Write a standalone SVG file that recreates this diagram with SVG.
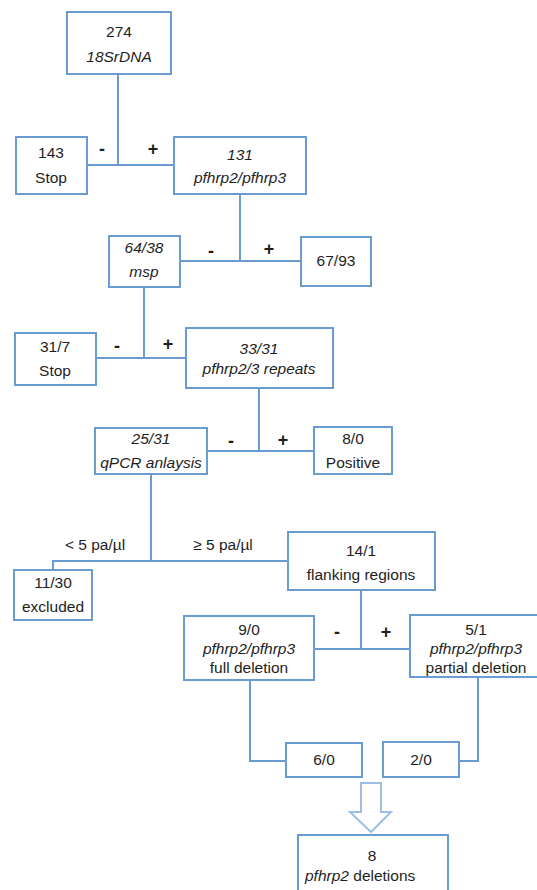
<svg xmlns="http://www.w3.org/2000/svg" width="537" height="890" viewBox="0 0 537 890">
<style>
.b{fill:#fff;stroke:#6a9bd3;stroke-width:2}
.c{fill:none;stroke:#6a9bd3;stroke-width:2}
text{font-family:"Liberation Sans",Arial,sans-serif;font-size:15.5px;fill:#1e1e1e;text-anchor:middle}
.i{font-style:italic}
.s{font-weight:bold;font-size:18px}
</style>
<rect width="537" height="890" fill="#fff"/>
<g id="connectors">
<path class="c" d="M118 74V165M87 165H174"/>
<path class="c" d="M240 194V261M180 261H301"/>
<path class="c" d="M144 287V358M96 358H186"/>
<path class="c" d="M259 388V451M207 451H314"/>
<path class="c" d="M151 474V561M53 570V561H288"/>
<path class="c" d="M361 590V649M314 649H410"/>
<path class="c" d="M250 680V761H286"/>
<path class="c" d="M478 677V761H459"/>
<path fill="#fff" stroke="#9dbfe6" stroke-width="2" d="M361 783H381V812H391L371 832L350 812H361Z"/>
<text class="s" x="102" y="155">-</text>
<text class="s" x="153" y="155">+</text>
<text class="s" x="211" y="257">-</text>
<text class="s" x="269" y="255">+</text>
<text class="s" x="117" y="352">-</text>
<text class="s" x="168" y="350">+</text>
<text class="s" x="231" y="447">-</text>
<text class="s" x="283" y="446">+</text>
<text class="s" x="337" y="638">-</text>
<text class="s" x="386" y="638">+</text>
<text x="95" y="550">&lt; 5 pa/µl</text>
<text x="223" y="550">≥ 5 pa/µl</text>
</g>
<g id="n274"><rect class="b" x="67" y="12" width="104" height="62"/><text x="119" y="37">274</text><text class="i" x="119" y="62">18SrDNA</text></g>
<g id="n143"><rect class="b" x="16" y="137" width="71" height="57"/><text x="51" y="158">143</text><text x="51" y="183">Stop</text></g>
<g id="n131"><rect class="b" x="174" y="137" width="132" height="57"/><text class="i" x="240" y="160">131</text><text class="i" x="240" y="183">pfhrp2/pfhrp3</text></g>
<g id="n6438"><rect class="b" x="109" y="236" width="71" height="51"/><text class="i" x="144" y="253">64/38</text><text class="i" x="144" y="277">msp</text></g>
<g id="n6793"><rect class="b" x="301" y="237" width="70" height="49"/><text x="336" y="266">67/93</text></g>
<g id="n317"><rect class="b" x="15" y="333" width="81" height="52"/><text x="55" y="352">31/7</text><text x="55" y="376">Stop</text></g>
<g id="n3331"><rect class="b" x="186" y="328" width="147" height="60"/><text class="i" x="259" y="354">33/31</text><text class="i" x="259" y="374">pfhrp2/3 repeats</text></g>
<g id="n2531"><rect class="b" x="95" y="428" width="112" height="46"/><text class="i" x="151" y="444">25/31</text><text class="i" x="151" y="468">qPCR anlaysis</text></g>
<g id="n80"><rect class="b" x="314" y="427" width="78" height="47"/><text x="353" y="444">8/0</text><text x="353" y="468">Positive</text></g>
<g id="n141"><rect class="b" x="288" y="532" width="147" height="58"/><text x="361" y="556">14/1</text><text x="361" y="580">flanking regions</text></g>
<g id="n1130"><rect class="b" x="14" y="570" width="78" height="50"/><text x="53" y="588">11/30</text><text x="53" y="612">excluded</text></g>
<g id="n90"><rect class="b" x="184" y="616" width="130" height="64"/><text x="249" y="635">9/0</text><text class="i" x="249" y="654">pfhrp2/pfhrp3</text><text x="249" y="673">full deletion</text></g>
<g id="n51"><rect class="b" x="410" y="615" width="132" height="62"/><text x="476" y="635">5/1</text><text class="i" x="476" y="654">pfhrp2/pfhrp3</text><text x="476" y="673">partial deletion</text></g>
<g id="n60"><rect class="b" x="286" y="743" width="76" height="34"/><text x="324" y="765">6/0</text></g>
<g id="n20"><rect class="b" x="383" y="742" width="76" height="35"/><text x="421" y="765">2/0</text></g>
<g id="n8"><rect class="b" x="298" y="835" width="150" height="70"/><text x="372" y="861">8</text><text x="305" y="881" style="text-anchor:start"><tspan class="i">pfhrp2</tspan> deletions</text></g>
</svg>
